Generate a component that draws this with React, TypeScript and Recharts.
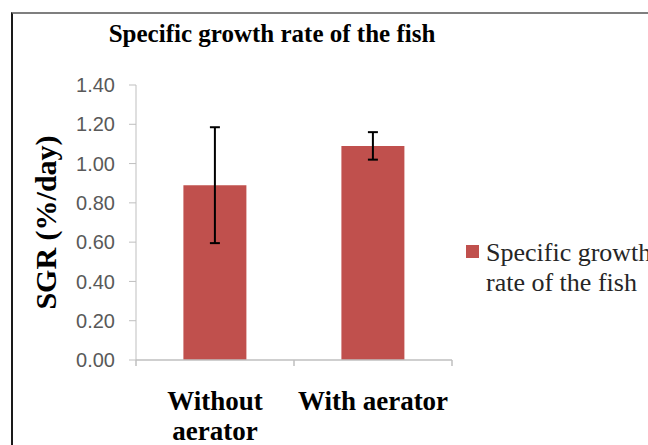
import { Bar, BarChart, ErrorBar, Legend, XAxis, YAxis } from 'recharts';

const categories = ['Without aerator', 'With aerator'];
const sgrValues = [0.89, 1.09];
const sgrErrors = [0.295, 0.07];
const yTicks = [0, 0.2, 0.4, 0.6, 0.8, 1.0, 1.2, 1.4];

const seriesName = 'Specific growth rate of the fish';
const chartTitle = 'Specific growth rate of the fish';
const yLabel = 'SGR (%/day)';

const BAR_COLOR = '#C0504D';
const AXIS_COLOR = '#BFBFBF';
const SERIF = '"Liberation Serif", "Times New Roman", serif';
const CAT_FONT = `bold 27px ${SERIF}`;

const data = categories.map((name, i) => ({ name, sgr: sgrValues[i], err: sgrErrors[i] }));

let ctx: CanvasRenderingContext2D | null = null;
const textWidth = (s: string) => {
  if (!ctx) ctx = document.createElement('canvas').getContext('2d');
  if (!ctx) return s.length * 13;
  ctx.font = CAT_FONT;
  return ctx.measureText(s).width;
};

// greedy word wrap into the band width
const wrap = (label: string, maxWidth: number) => {
  const lines: string[] = [];
  let cur = '';
  label.split(' ').forEach((w) => {
    const next = cur ? `${cur} ${w}` : w;
    if (cur && textWidth(next) > maxWidth) {
      lines.push(cur);
      cur = w;
    } else cur = next;
  });
  if (cur) lines.push(cur);
  return lines;
};

const CategoryTick = (props: any) => {
  const { x, y, payload, index, visibleTicksCount, width } = props;
  const half = payload?.offset || width / visibleTicksCount / 2;
  const isLast = index === visibleTicksCount - 1;
  const lines = wrap(String(payload.value), half * 2 - 4);
  return (
    <g>
      <line x1={x - half} x2={x - half} y1={y} y2={y + 6} stroke={AXIS_COLOR} strokeWidth={1.5} />
      {isLast && <line x1={x + half} x2={x + half} y1={y} y2={y + 6} stroke={AXIS_COLOR} strokeWidth={1.5} />}
      <text x={x} y={y + 50} textAnchor="middle" fontFamily={SERIF} fontWeight="bold" fontSize={27} fill="#000">
        {lines.map((l, i) => (
          <tspan key={l} x={x} dy={i === 0 ? 0 : 30}>
            {l}
          </tspan>
        ))}
      </text>
    </g>
  );
};

const LegendBox = () => (
  <div style={{ display: 'flex', alignItems: 'flex-start' }}>
    <div style={{ width: 13, height: 13, background: BAR_COLOR, marginTop: 7, marginRight: 7, flexShrink: 0 }} />
    <div style={{ width: 195, fontFamily: SERIF, fontSize: 26, lineHeight: '30px', color: '#262626' }}>{seriesName}</div>
  </div>
);

export default function App() {
  return (
    <div style={{ position: 'absolute', left: 0, top: 0, width: 648, height: 445, overflow: 'hidden', background: '#fff' }}>
      <div
        style={{
          position: 'absolute',
          left: 11,
          top: 12,
          width: 700,
          height: 500,
          borderTop: '2px solid #7f7f7f',
          borderLeft: '2px solid #1a1a1a',
        }}
      />
      <div
        style={{
          position: 'absolute',
          left: 0,
          top: 21,
          width: 544,
          textAlign: 'center',
          fontFamily: SERIF,
          fontWeight: 'bold',
          fontSize: 25,
          lineHeight: '25px',
          color: '#000',
        }}
      >
        {chartTitle}
      </div>
      <BarChart
        width={648}
        height={445}
        data={data}
        margin={{ top: 85, right: 196, bottom: 0, left: 20 }}
        barCategoryGap="30%"
        style={{ position: 'absolute', left: 0, top: 0 }}
      >
        <XAxis
          dataKey="name"
          height={85}
          interval={0}
          stroke={AXIS_COLOR}
          strokeWidth={1.5}
          tickLine={false}
          tickSize={0}
          tickMargin={0}
          tick={<CategoryTick />}
        />
        <YAxis
          width={116}
          domain={[0, 1.4]}
          ticks={yTicks}
          tickFormatter={(v: number) => v.toFixed(2)}
          stroke={AXIS_COLOR}
          tickSize={7}
          tickMargin={14}
          tick={{ fill: '#595959', fontSize: 20, fontFamily: '"Liberation Sans", Arial, sans-serif' }}
          label={{
            value: yLabel,
            angle: -90,
            position: 'center',
            dx: -33,
            fontFamily: SERIF,
            fontWeight: 'bold',
            fontSize: 30,
            fill: '#000',
          }}
        />
        <Legend
          layout="vertical"
          align="center"
          verticalAlign="middle"
          wrapperStyle={{ left: 466, top: 238, width: 240 }}
          content={<LegendBox />}
        />
        <Bar dataKey="sgr" name={seriesName} fill={BAR_COLOR} isAnimationActive={false}>
          <ErrorBar dataKey="err" width={5} stroke="#000" strokeWidth={2} isAnimationActive={false} />
        </Bar>
      </BarChart>
    </div>
  );
}
